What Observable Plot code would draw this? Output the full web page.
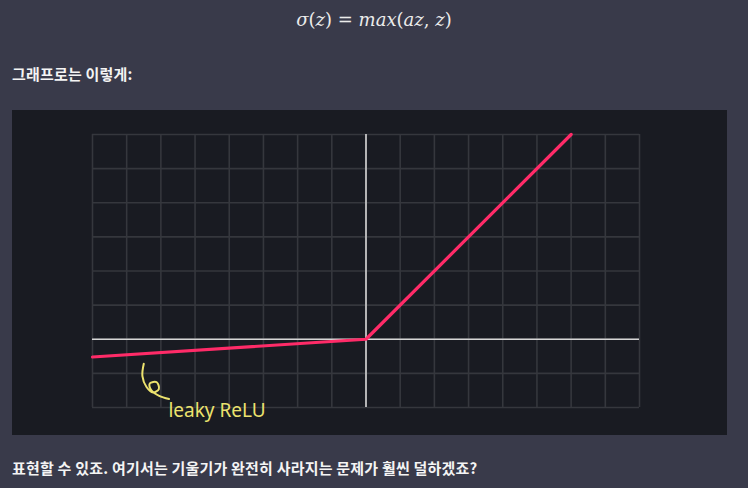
<!DOCTYPE html>
<html>
<head>
<meta charset="utf-8">
<script src="https://cdn.jsdelivr.net/npm/d3@7"></script>
<script src="https://cdn.jsdelivr.net/npm/@observablehq/plot@0.6"></script>
<style>
  html, body { margin: 0; padding: 0; }
  body {
    width: 748px; height: 488px; overflow: hidden;
    background: #393a4a; color: #f0f0f0;
    font-family: "Noto Sans CJK KR", "Noto Sans", sans-serif;
    position: relative;
  }
  #formula {
    position: absolute; left: 0; width: 748px; top: 9px;
    text-align: center; font-family: "DejaVu Serif", serif; font-style: italic;
    font-size: 18px; color: #ececec;
  }
  #formula span.up { font-style: normal; }
  .para {
    position: absolute; left: 12px; font-weight: bold; font-size: 15px; color: #f4f4f4;
    letter-spacing: 0.2px;
  }
  #chart {
    position: absolute; left: 12px; top: 110px; width: 715px; height: 325px;
    background: #191b22;
  }
  #chart svg { display: block; }
</style>
</head>
<body>
<div id="formula">σ<span class="up">(</span>z<span class="up">) = </span>max<span class="up">(</span>az<span class="up">, </span>z<span class="up">)</span></div>
<div class="para" style="top:63px">그래프로는 이렇게:</div>
<div id="chart"></div>
<div class="para" style="top:457px">표현할 수 있죠. 여기서는 기울기가 완전히 사라지는 문제가 훨씬 덜하겠죠?</div>
<script>
// leaky ReLU curve
const zValues = [-8, 0, 6];
const sigmaValues = [-0.52, 0, 6];

// grid ticks
const xTicks = d3.range(-8, 9);
const yTicks = d3.range(-2, 7);

// annotation
const labelText = "leaky ReLU";
const labelPos = {x: -5.78, y: -2.1};
const curlX = [-6.50, -6.54, -6.42, -6.23, -6.06, -6.12, -6.32, -6.29, -6.05, -5.76];
const curlY = [-0.72, -1.08, -1.40, -1.56, -1.46, -1.26, -1.29, -1.48, -1.66, -1.75];

const rows = zValues.map((z, i) => ({z, s: sigmaValues[i]}));
const curl = curlX.map((x, i) => ({x, y: curlY[i]}));

const chart = Plot.plot({
  width: 715,
  height: 325,
  marginLeft: 80,
  marginRight: 88,
  marginTop: 24,
  marginBottom: 28,
  style: {background: "transparent", overflow: "visible"},
  x: {domain: [-8, 8], axis: null},
  y: {domain: [-2, 6], axis: null},
  marks: [
    Plot.gridX(xTicks, {stroke: "#35373d", strokeOpacity: 1, strokeWidth: 1.6}),
    Plot.gridY(yTicks, {stroke: "#35373d", strokeOpacity: 1, strokeWidth: 1.6}),
    Plot.ruleX([0], {stroke: "#d6d6d6", strokeWidth: 1.6}),
    Plot.ruleY([0], {x1: -8, x2: 8, stroke: "#d6d6d6", strokeWidth: 1.6}),
    Plot.line(rows, {x: "z", y: "s", stroke: "#ff2b68", strokeWidth: 3.2, strokeLinejoin: "round"}),
    Plot.line(curl, {x: "x", y: "y", curve: "catmull-rom", stroke: "#ece26e", strokeWidth: 2, strokeLinecap: "round"}),
    Plot.text([labelText], {
      x: labelPos.x, y: labelPos.y, text: d => d, textAnchor: "start",
      fill: "#ece26e", fontSize: 19, fontFamily: "Noto Sans"
    })
  ]
});
document.getElementById("chart").appendChild(chart);
</script>
</body>
</html>
